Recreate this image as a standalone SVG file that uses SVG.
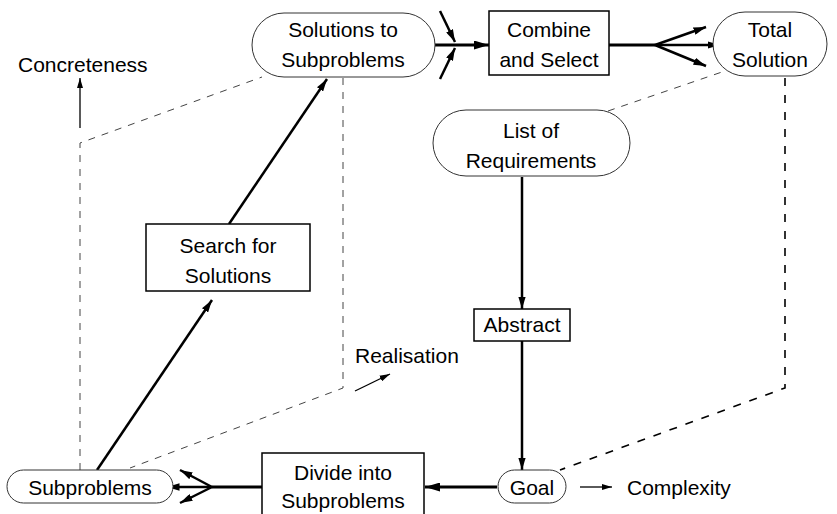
<svg xmlns="http://www.w3.org/2000/svg" width="837" height="514" viewBox="0 0 837 514">
<style>
text{font-family:"Liberation Sans",Arial,sans-serif;font-size:21px;fill:#000}
.c{text-anchor:middle}
.term{fill:#fff;stroke:#333;stroke-width:1}
.box{fill:#fff;stroke:#000;stroke-width:1.5}
.thick{stroke:#000;stroke-width:3;fill:none}
.med{stroke:#000;stroke-width:2.5;fill:none}
.thin{stroke:#000;stroke-width:1.3;fill:none}
.dash{stroke:#444;stroke-width:1;fill:none;stroke-dasharray:7 7}
.dash2{stroke:#000;stroke-width:1.6;fill:none;stroke-dasharray:8 9}
</style>
<defs>
<marker id="ah" viewBox="0 0 10 6" refX="10" refY="3" markerWidth="5" markerHeight="3" markerUnits="strokeWidth" orient="auto">
<path d="M0,0 L10,3 L0,6 Z" fill="#000"/>
</marker>
<marker id="ahs" viewBox="0 0 10 6" refX="10" refY="3" markerWidth="8" markerHeight="5" markerUnits="strokeWidth" orient="auto">
<path d="M0,0 L10,3 L0,6 Z" fill="#000"/>
</marker>
</defs>
<g id="connectors">
<polyline class="dash" points="80,470 80,143 262,77"/>
<polyline class="dash" points="343,78 343,388 130,468"/>
<line class="dash" x1="608" y1="111" x2="722" y2="72"/>
<polyline class="dash2" points="785,78 785,388 560,470"/>
<line class="thick" x1="435" y1="45" x2="489" y2="45" marker-end="url(#ah)"/>
<line class="med" x1="440" y1="11" x2="455" y2="42" marker-end="url(#ah)"/>
<line class="med" x1="440" y1="79" x2="455" y2="48" marker-end="url(#ah)"/>
<line class="thick" x1="609" y1="45" x2="655" y2="45"/>
<line class="med" x1="655" y1="45" x2="706" y2="27" marker-end="url(#ah)"/>
<line class="med" x1="655" y1="45" x2="720" y2="45" marker-end="url(#ah)"/>
<line class="med" x1="655" y1="45" x2="706" y2="66" marker-end="url(#ah)"/>
<line class="thin" x1="80" y1="128" x2="80" y2="78" marker-end="url(#ahs)"/>
<line class="thin" x1="355" y1="391" x2="390" y2="374" marker-end="url(#ahs)"/>
<line class="med" x1="97" y1="470" x2="212" y2="300" marker-end="url(#ah)"/>
<line class="med" x1="229" y1="224" x2="327" y2="79" marker-end="url(#ah)"/>
<line class="med" x1="522" y1="177" x2="522" y2="309" marker-end="url(#ah)"/>
<line class="med" x1="522" y1="341" x2="522" y2="470" marker-end="url(#ah)"/>
<line class="thick" x1="497" y1="487" x2="425" y2="487" marker-end="url(#ah)"/>
<line class="thick" x1="262" y1="487" x2="212" y2="487"/>
<line class="med" x1="212" y1="487" x2="180" y2="470" marker-end="url(#ah)"/>
<line class="med" x1="212" y1="487" x2="167" y2="487" marker-end="url(#ah)"/>
<line class="med" x1="212" y1="487" x2="180" y2="503" marker-end="url(#ah)"/>
<line class="thin" x1="580" y1="487" x2="612" y2="487" marker-end="url(#ahs)"/>
</g>
<g id="concreteness"><text x="18" y="72">Concreteness</text></g>
<g id="realisation"><text x="355" y="363">Realisation</text></g>
<g id="complexity"><text x="627" y="495">Complexity</text></g>
<g id="solutions">
<rect class="term" x="252" y="13" width="183" height="64" rx="32"/>
<text class="c" x="343" y="37">Solutions to</text>
<text class="c" x="343" y="67">Subproblems</text>
</g>
<g id="combine">
<rect class="box" x="489" y="11" width="120" height="64"/>
<text class="c" x="549" y="37">Combine</text>
<text class="c" x="549" y="67">and Select</text>
</g>
<g id="total">
<rect class="term" x="713" y="12" width="114" height="64" rx="32"/>
<text class="c" x="770" y="37">Total</text>
<text class="c" x="770" y="67">Solution</text>
</g>
<g id="requirements">
<rect class="term" x="433" y="110" width="197" height="66" rx="33"/>
<text class="c" x="531" y="138">List of</text>
<text class="c" x="531" y="168">Requirements</text>
</g>
<g id="search">
<rect class="box" x="146" y="224" width="164" height="67"/>
<text class="c" x="228" y="253">Search for</text>
<text class="c" x="228" y="283">Solutions</text>
</g>
<g id="abstract">
<rect class="box" x="474" y="309" width="96" height="32"/>
<text class="c" x="522" y="332">Abstract</text>
</g>
<g id="subproblems">
<rect class="term" x="7" y="470" width="166" height="33" rx="16.5"/>
<text class="c" x="90" y="495">Subproblems</text>
</g>
<g id="divide">
<rect class="box" x="262" y="453" width="162" height="70"/>
<text class="c" x="343" y="480">Divide into</text>
<text class="c" x="343" y="508">Subproblems</text>
</g>
<g id="goal">
<rect class="term" x="498" y="470" width="68" height="33" rx="16.5"/>
<text class="c" x="532" y="495">Goal</text>
</g>
</svg>
